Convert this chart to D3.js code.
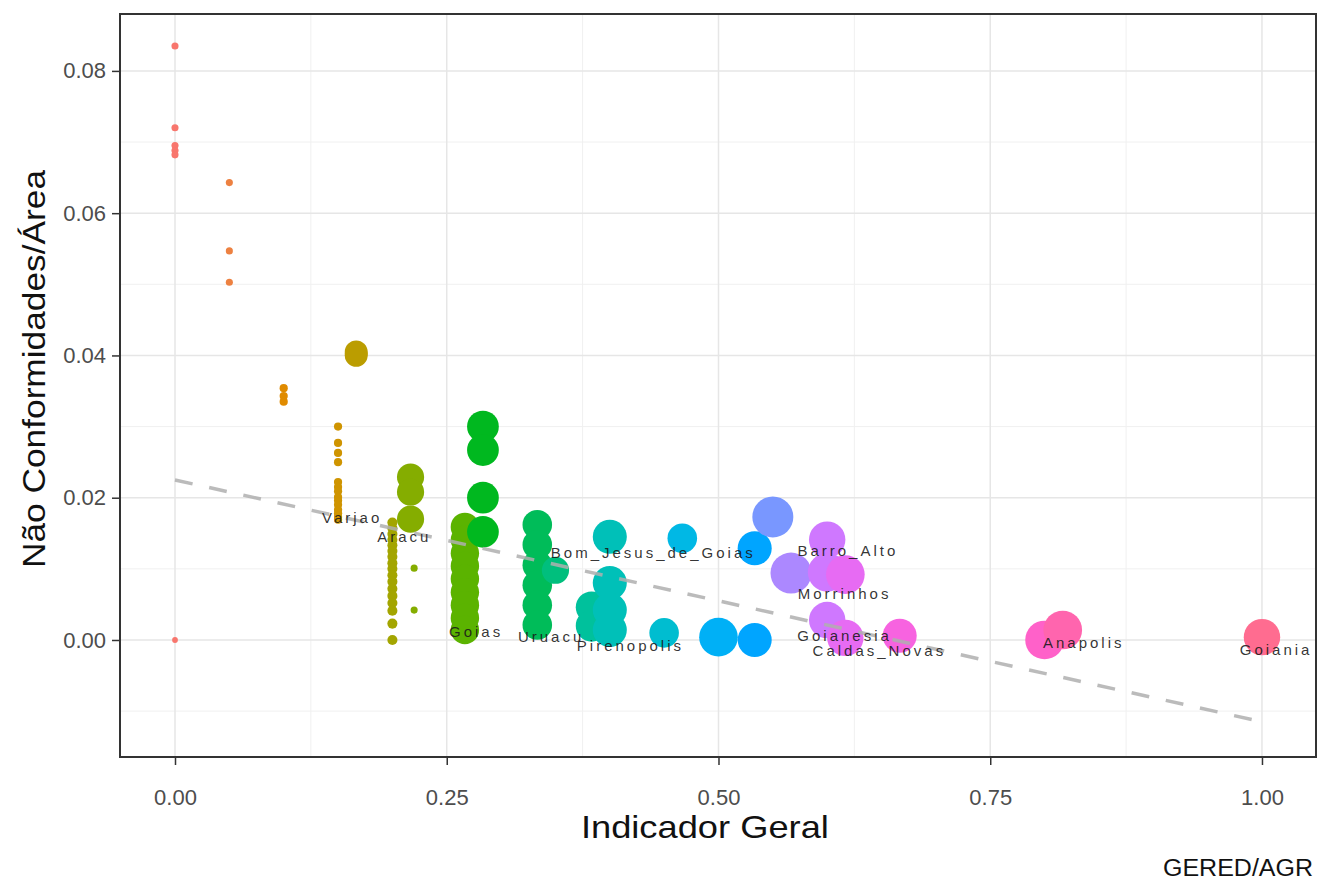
<!DOCTYPE html>
<html lang="pt">
<head>
<meta charset="UTF-8">
<title>Indicador Geral x Não Conformidades/Área</title>
<script src="https://d3js.org/d3.v7.min.js"></script>
<style>
  body { margin: 0; background: #fff; }
  text { font-family: "Liberation Sans", Arial, sans-serif; }
</style>
</head>
<body>
<div id="chart"></div>
<script>
// Indicador Geral (x) for each municipality
const indicador = [
  0, 0, 0, 0, 0, 0,
  0.05, 0.05, 0.05,
  0.1, 0.1, 0.1,
  0.15, 0.15, 0.15, 0.15, 0.15, 0.15, 0.15, 0.15, 0.15, 0.15, 0.15, 0.15, 0.15, 0.15,
  0.1667, 0.1667, 0.1667,
  0.2, 0.2, 0.2, 0.2, 0.2, 0.2, 0.2, 0.2, 0.2, 0.2, 0.2, 0.2, 0.2, 0.2, 0.2, 0.2, 0.2,
  0.2167, 0.2167, 0.2167, 0.22, 0.22,
  0.2667, 0.2667, 0.2667, 0.2667, 0.2667, 0.2667, 0.2667, 0.2667, 0.2667,
  0.2833, 0.2833, 0.2833, 0.2833,
  0.3333, 0.3333, 0.3333, 0.3333, 0.3333, 0.3333,
  0.35,
  0.3833, 0.3833,
  0.4, 0.4, 0.4, 0.4,
  0.45,
  0.4667,
  0.5,
  0.5333, 0.5333,
  0.55,
  0.5667,
  0.6, 0.6, 0.6,
  0.6167, 0.6167,
  0.6667,
  0.8,
  0.8167,
  1.0
];

// Não Conformidades / Área (y)
const naoConf = [
  0.0835, 0.0720, 0.0695, 0.0688, 0.0682, 0.0000,
  0.0643, 0.0547, 0.0503,
  0.0354, 0.0343, 0.0335,
  0.0300, 0.0277, 0.0263, 0.0250, 0.0222, 0.0215, 0.0209, 0.0201, 0.0196, 0.0190, 0.0183, 0.0178, 0.0173, 0.0169,
  0.0402, 0.0400, 0.0405,
  0.0165, 0.0157, 0.0149, 0.0141, 0.0133, 0.0125, 0.0117, 0.0108, 0.0100, 0.0091, 0.0082, 0.0072, 0.0062, 0.0052, 0.0041, 0.0023, 0.0000,
  0.0229, 0.0208, 0.0170, 0.0101, 0.0042,
  0.0159, 0.0141, 0.0122, 0.0104, 0.0086, 0.0067, 0.0049, 0.0031, 0.0014,
  0.0300, 0.0267, 0.0200, 0.0152,
  0.0162, 0.0134, 0.0105, 0.0077, 0.0049, 0.0021,
  0.0098,
  0.0046, 0.0020,
  0.0145, 0.0080, 0.0042, 0.0014,
  0.0010,
  0.0143,
  0.0004,
  0.0129, 0.0000,
  0.0173,
  0.0094,
  0.0141, 0.0095, 0.0028,
  0.0092, 0.0003,
  0.0006,
  0.0000,
  0.0014,
  0.0004
];

// point size variable
const porte = [
  3, 3, 3, 3, 3, 2,
  3, 3, 3,
  4, 4, 4,
  4, 4, 4, 4, 4, 4, 4, 4, 4, 4, 4, 4, 4, 4,
  31, 31, 31,
  6, 6, 6, 6, 6, 6, 6, 6, 6, 6, 6, 6, 6, 6, 6, 6, 6,
  44, 44, 44, 3, 3,
  48, 48, 48, 48, 48, 48, 48, 48, 48,
  60, 60, 60, 60,
  52, 52, 52, 52, 52, 52,
  44,
  60, 60,
  69, 69, 69, 69,
  52,
  52,
  89,
  69, 69,
  100,
  100,
  79, 89, 79,
  89, 79,
  69,
  89,
  89,
  79
];

// municipality labels
const rotulos = ["Varjao", "Aracu", "Goias", "Uruacu", "Pirenopolis", "Bom_Jesus_de_Goias",
  "Barro_Alto", "Morrinhos", "Goianesia", "Caldas_Novas", "Anapolis", "Goiania"];
const rotuloX = [0.163, 0.211, 0.277, 0.346, 0.419, 0.440, 0.619, 0.616, 0.616, 0.648, 0.836, 1.013];
const rotuloY = [0.0172, 0.0145, 0.0011, 0.0004, -0.0008, 0.0122, 0.0125, 0.0065, 0.0006, -0.0015, -0.0004, -0.0014];

// linear trend (dashed)
const tendX = [0, 1];
const tendY = [0.0225, -0.0115];

const xTicks = [0, 0.25, 0.5, 0.75, 1];
const yTicks = [0, 0.02, 0.04, 0.06, 0.08];

// ggplot-like hue palette in polar LUV
function hclLuv(h, c, l) {
  const hr = h * Math.PI / 180;
  const u = c * Math.cos(hr), v = c * Math.sin(hr);
  const Xn = 95.047, Yn = 100, Zn = 108.883;
  const Y = l > 8 ? Yn * Math.pow((l + 16) / 116, 3) : Yn * l / 903.3;
  const un = 4 * Xn / (Xn + 15 * Yn + 3 * Zn), vn = 9 * Yn / (Xn + 15 * Yn + 3 * Zn);
  const up = u / (13 * l) + un, vp = v / (13 * l) + vn;
  const X = Y * 9 * up / (4 * vp) / 100;
  const Z = Y * (12 - 3 * up - 20 * vp) / (4 * vp) / 100;
  const Yy = Y / 100;
  const lin = [
    3.2404542 * X - 1.5371385 * Yy - 0.4985314 * Z,
    -0.9692660 * X + 1.8760108 * Yy + 0.0415560 * Z,
    0.0556434 * X - 0.2040259 * Yy + 1.0572252 * Z
  ];
  const g = lin.map(t => {
    const s = t <= 0.0031308 ? 12.92 * t : 1.055 * Math.pow(t, 1 / 2.4) - 0.055;
    return Math.round(Math.max(0, Math.min(1, s)) * 255);
  });
  return d3.rgb(g[0], g[1], g[2]).formatHex();
}

const W = 1318, H = 883;
const margin = { top: 14, right: 2, bottom: 126, left: 120 };
const width = W - margin.left - margin.right;
const height = H - margin.top - margin.bottom;

const x = d3.scaleLinear().domain([-0.0506, 1.0497]).range([0, width]);
const y = d3.scaleLinear().domain([-0.01645, 0.088]).range([height, 0]);
const r = d3.scaleSqrt().domain([0, 100]).range([0, 20.5]);

const niveis = Array.from(new Set(indicador.map(v => v.toFixed(2)))).sort((a, b) => a - b);
const cores = niveis.map((d, i) => hclLuv(15 + 360 * i / niveis.length, 100, 65));
const cor = d3.scaleOrdinal().domain(niveis).range(cores);

const data = indicador.map((v, i) => ({ x: v, y: naoConf[i], s: porte[i] }));

const svg = d3.select("#chart").append("svg")
  .attr("width", W).attr("height", H);

const g = svg.append("g").attr("transform", `translate(${margin.left},${margin.top})`);

// grid
const xMinor = [0.125, 0.375, 0.625, 0.875];
const yMinor = [-0.01, 0.01, 0.03, 0.05, 0.07];
g.append("g").selectAll("line").data(xMinor).join("line")
  .attr("x1", d => x(d)).attr("x2", d => x(d)).attr("y1", 0).attr("y2", height)
  .attr("stroke", "#F0F0F0").attr("stroke-width", 1);
g.append("g").selectAll("line").data(yMinor).join("line")
  .attr("y1", d => y(d)).attr("y2", d => y(d)).attr("x1", 0).attr("x2", width)
  .attr("stroke", "#F0F0F0").attr("stroke-width", 1);
g.append("g").selectAll("line").data(xTicks).join("line")
  .attr("x1", d => x(d)).attr("x2", d => x(d)).attr("y1", 0).attr("y2", height)
  .attr("stroke", "#E6E6E6").attr("stroke-width", 1.5);
g.append("g").selectAll("line").data(yTicks).join("line")
  .attr("y1", d => y(d)).attr("y2", d => y(d)).attr("x1", 0).attr("x2", width)
  .attr("stroke", "#E6E6E6").attr("stroke-width", 1.5);

// points
g.append("g").selectAll("circle").data(data).join("circle")
  .attr("cx", d => x(d.x)).attr("cy", d => y(d.y))
  .attr("r", d => r(d.s))
  .attr("fill", d => cor(d.x.toFixed(2)));

// trend line
g.append("path")
  .datum(tendX.map((v, i) => [v, tendY[i]]))
  .attr("d", d3.line().x(d => x(d[0])).y(d => y(d[1])))
  .attr("fill", "none").attr("stroke", "#AFAFAF").attr("stroke-opacity", 0.85)
  .attr("stroke-width", 3.5).attr("stroke-dasharray", "18,17");

// labels
g.append("g").selectAll("text").data(rotulos).join("text")
  .attr("x", (d, i) => x(rotuloX[i])).attr("y", (d, i) => y(rotuloY[i]))
  .attr("dy", "0.35em").attr("text-anchor", "middle")
  .attr("font-size", 15).attr("letter-spacing", 3)
  .attr("fill", "#1a1a1a").attr("fill-opacity", 0.9)
  .text(d => d);

// axes
const xAxis = g.append("g").attr("transform", `translate(0,${height})`)
  .call(d3.axisBottom(x).tickValues(xTicks).tickFormat(d3.format(".2f")).tickSize(8).tickPadding(24));
const yAxis = g.append("g")
  .call(d3.axisLeft(y).tickValues(yTicks).tickFormat(d3.format(".2f")).tickSize(8).tickPadding(6));
[xAxis, yAxis].forEach(a => {
  a.select(".domain").remove();
  a.selectAll(".tick line").attr("stroke", "#333").attr("stroke-width", 1.5);
  a.selectAll(".tick text").attr("fill", "#4D4D4D").attr("font-size", 22)
    .attr("font-family", "'Liberation Sans', Arial, sans-serif");
});

// panel border
g.append("rect").attr("width", width).attr("height", height)
  .attr("fill", "none").attr("stroke", "#333").attr("stroke-width", 2);

// titles
svg.append("text").attr("x", margin.left + x(0.4875)).attr("y", 838)
  .attr("text-anchor", "middle").attr("font-size", 32).attr("fill", "#111")
  .attr("textLength", 248).attr("lengthAdjust", "spacingAndGlyphs")
  .text("Indicador Geral");
svg.append("text").attr("transform", `translate(45,${369}) rotate(-90)`)
  .attr("text-anchor", "middle").attr("font-size", 32).attr("fill", "#111")
  .attr("textLength", 398).attr("lengthAdjust", "spacingAndGlyphs")
  .text("Não Conformidades/Área");
svg.append("text").attr("x", 1313).attr("y", 876)
  .attr("text-anchor", "end").attr("font-size", 23).attr("fill", "#111")
  .attr("textLength", 150).attr("lengthAdjust", "spacingAndGlyphs")
  .text("GERED/AGR");
</script>
</body>
</html>
